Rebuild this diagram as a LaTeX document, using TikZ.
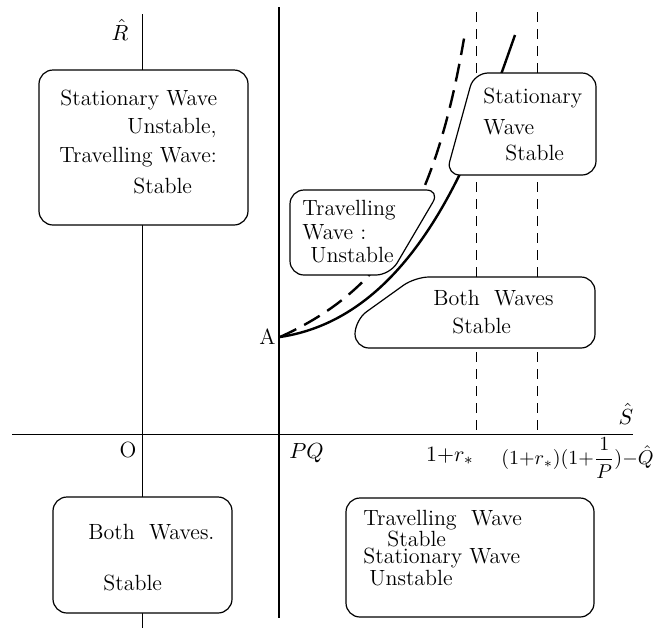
\documentclass[tikz,border=0pt]{standalone}
\usepackage{tikz}
\usepackage{amsmath}
\usetikzlibrary{positioning}
\begin{document}
\begin{tikzpicture}[x=0.5pt, y=-0.5pt, font=\fontsize{11}{13}\selectfont,
  axis/.style={line width=0.5pt},
  guide/.style={line width=0.4pt, dash pattern=on 5pt off 3.5pt},
  border/.style={line width=1.2pt},
  region/.style={draw, fill=white, line width=0.6pt, rounded corners=7pt},
  txt/.style={anchor=west, inner sep=0pt},
  lbl/.style={inner sep=1pt}]
  \useasboundingbox (0,0) rectangle (653,628);
  \draw[guide] (476,12) -- (476,434);
  \draw[guide] (537,12) -- (537,434);
  \draw[axis] (12,434) -- (633,434);
  \draw[axis] (142,14) -- (142,628);
  \draw[line width=0.75pt] (279,7) -- (279,618);
  \coordinate (A) at (280,337);
  \coordinate (solidend) at (515,35);
  \draw[border] (A) .. controls (420,316) and (478,140) .. (solidend);
  \draw[border, dash pattern=on 9pt off 4.5pt] plot[domain=280:464, samples=80, smooth] (\x, {452.1-293.6/((535-\x)/100)});
  \draw[region] (39,70) rectangle (248,225);
  \node[txt] (tl1) at (60,100) {Stationary Wave};
  \node[txt] (tl2) at (127,128) {Unstable,};
  \node[txt] (tl3) at (59,157) {Travelling Wave:};
  \node[txt] (tl4) at (133,186) {Stable};
  \draw[region] (474,73) -- (596,73) -- (596,175) -- (446,175) -- cycle;
  \node[txt] (sw1) at (483,98) {Stationary};
  \node[txt] (sw2) at (483,127) {Wave};
  \node[txt] (sw3) at (505,153) {Stable};
  \draw[region] (290,190) -- (440,190) -- (390,275) -- (290,275) -- cycle;
  \node[txt] (tw1) at (302,210) {Travelling};
  \node[txt] (tw2) at (302,232) {Wave :};
  \node[txt] (tw3) at (310,255) {Unstable};
  \draw[region] (415,277) -- (595,277) -- (595,348) -- (355,348) -- (355,320) -- cycle;
  \node[txt] (bw1) at (433,298) {Both\ \ Waves};
  \node[txt] (bw2) at (452,326) {Stable};
  \draw[region] (53,497) rectangle (232,613);
  \node[txt] (bl1) at (88,532) {Both\ \ Waves.};
  \node[txt] (bl2) at (103,583) {Stable};
  \draw[region] (346,498) rectangle (594,617);
  \node[txt] (br1) at (363,520) {Travelling\ \ Wave};
  \node[txt] (br2) at (387,539) {Stable};
  \node[txt] (br3) at (363,558) {Stationary Wave};
  \node[txt] (br4) at (369,578) {Unstable};
  \node[lbl] (Rhat) at (120,30) {$\hat{R}$};
  \node[lbl] (Shat) at (626,414) {$\hat{S}$};
  \node[lbl] (orig) at (128,450) {O};
  \node[lbl, anchor=west] (pq) at (287,453) {$PQ$};
  \node[lbl, left=1pt of A] (alab) {A};
  \node[lbl, anchor=east] (rs1) at (476,456) {$1{+}r_*$};
  \node[lbl, anchor=west, font=\fontsize{10}{12}\selectfont] (rs2) at (499,458) {$(1{+}r_*)(1{+}\dfrac{1}{P}){-}\hat{Q}$};
\end{tikzpicture}
\end{document}
